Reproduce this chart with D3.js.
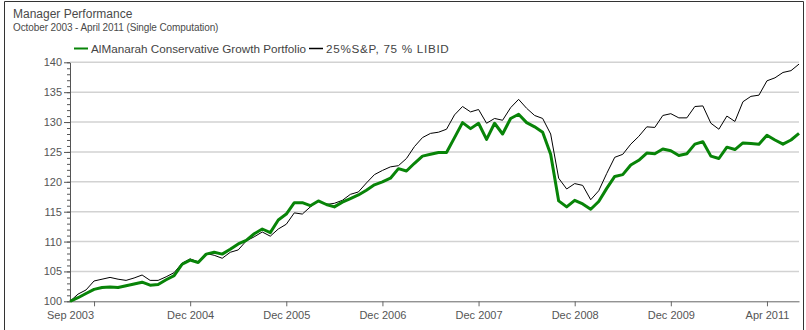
<!DOCTYPE html>
<html>
<head>
<meta charset="utf-8">
<script src="https://cdn.jsdelivr.net/npm/d3@7"></script>
<style>
  html, body { margin: 0; padding: 0; background: #fff; }
  svg { display: block; font-family: "Liberation Sans", Arial, sans-serif; }
</style>
</head>
<body>
<svg id="chart" width="806" height="330"></svg>
<script>
// Monthly index values, Sep 2003 (base 100) through Apr 2011
const months = d3.range(0, 92); // 0 = Sep 2003, 91 = Apr 2011

const portfolio = [
  100.0, 100.6, 101.3, 102.0, 102.3, 102.4, 102.3, 102.6, 102.9, 103.2,
  102.7, 102.8, 103.6, 104.3, 106.2, 106.9, 106.5, 107.9, 108.2, 107.9,
  108.7, 109.6, 110.2, 111.3, 112.1, 111.5, 113.6, 114.6, 116.5, 116.5,
  116.0, 116.8, 116.2, 115.8, 116.6, 117.2, 117.8, 118.6, 119.5, 120.0,
  120.6, 122.2, 121.8, 123.1, 124.3, 124.6, 124.9, 124.9, 127.4, 129.9,
  128.9, 129.8, 127.1, 129.8, 128.0, 130.6, 131.3, 129.9, 129.2, 128.3,
  124.6, 116.8, 115.8, 116.9, 116.3, 115.4, 116.7, 118.9, 120.9, 121.2,
  122.8, 123.6, 124.8, 124.7, 125.5, 125.2, 124.4, 124.7, 126.3, 126.7,
  124.3, 123.9, 125.8, 125.4, 126.5, 126.4, 126.3, 127.8, 127.0, 126.3,
  127.0, 128.1
];

const benchmark = [
  100.0, 101.2, 101.9, 103.4, 103.7, 104.0, 103.7, 103.5, 103.9, 104.4,
  103.5, 103.5, 104.1, 104.8, 106.4, 107.1, 106.6, 108.0, 107.7, 107.2,
  108.2, 108.6, 110.1, 110.8, 111.6, 110.9, 112.1, 112.9, 114.8, 114.6,
  115.8, 116.8, 116.2, 116.4, 116.9, 117.9, 118.3, 119.8, 121.2, 121.9,
  122.5, 122.7, 123.9, 125.9, 127.4, 128.1, 128.3, 128.8, 131.2, 132.6,
  131.7, 132.1, 129.8, 130.6, 130.3, 132.4, 133.8, 132.3, 131.1, 130.6,
  128.0, 120.6, 118.8, 119.7, 119.4, 117.0, 118.5, 121.4, 124.1, 124.6,
  126.3, 127.6, 129.2, 129.1, 131.1, 131.4, 130.7, 130.7, 132.6, 132.7,
  129.8, 128.8, 131.0, 130.1, 133.4, 134.3, 134.5, 136.9, 137.4, 138.3,
  138.6, 139.7
];

const seriesNames = ["AlManarah Conservative Growth Portfolio", "25%S&P, 75 % LIBID"];
const seriesColors = ["#088408", "#000000"];

// x-axis ticks (month index) and their labels; an empty label gives a bare tick
const xTickValues = [0, 3, 15, 27, 39, 51, 63, 75, 87];
const xTickLabels = ["Sep 2003", "", "Dec 2004", "Dec 2005", "Dec 2006", "Dec 2007", "Dec 2008", "Dec 2009", "Apr 2011"];
const yTickValues = [100, 105, 110, 115, 120, 125, 130, 135, 140];

const svg = d3.select("#chart");
const plot = { left: 70, right: 799, top: 62.3, bottom: 301.3 };

const x = d3.scaleLinear().domain([0, 91]).range([plot.left, plot.right]);
const y = d3.scaleLinear().domain([100, 140]).range([plot.bottom, plot.top]);

// outer frame
svg.append("path")
  .attr("d", "M4.5,340 V1.5 H803.5 V340")
  .attr("fill", "none").attr("stroke", "#333").attr("stroke-width", 1);

// titles
svg.append("text").attr("x", 13).attr("y", 18)
  .attr("font-size", 12).attr("fill", "#4a4a4a").text("Manager Performance");
svg.append("text").attr("x", 13).attr("y", 31)
  .attr("font-size", 10).attr("letter-spacing", -0.1).attr("fill", "#4a4a4a")
  .text("October 2003 - April 2011 (Single Computation)");

// gridlines
svg.append("g").selectAll("line").data(yTickValues.filter(v => v > 100)).join("line")
  .attr("x1", plot.left).attr("x2", plot.right)
  .attr("y1", d => y(d)).attr("y2", d => y(d))
  .attr("stroke", "#d2d2d2").attr("stroke-width", 1.5);

// y axis: minor ticks every unit, labelled majors every 5
const yMinor = d3.axisLeft(y).tickValues(d3.range(100, 141, 1)).tickSize(3).tickFormat("");
svg.append("g").attr("transform", `translate(${plot.left},0)`).call(yMinor)
  .call(g => g.select(".domain").remove())
  .call(g => g.selectAll("line").attr("stroke", "#555"));

const yAxis = d3.axisLeft(y).tickValues(yTickValues).tickSize(6).tickPadding(2).tickSizeOuter(0);
svg.append("g").attr("transform", `translate(${plot.left},0)`).call(yAxis)
  .call(g => g.select(".domain").attr("stroke", "#555"))
  .call(g => g.selectAll("line").attr("stroke", "#555"))
  .call(g => g.selectAll("text").attr("font-size", 11).attr("fill", "#555")
    .attr("font-family", "'Liberation Sans', Arial, sans-serif"));

// x axis
const xAxis = d3.axisBottom(x).tickValues(xTickValues)
  .tickFormat((d, i) => xTickLabels[i]).tickSize(5).tickPadding(5).tickSizeOuter(0);
svg.append("g").attr("transform", `translate(0,${plot.bottom})`).call(xAxis)
  .call(g => g.select(".domain").attr("stroke", "#666"))
  .call(g => g.selectAll("line").attr("stroke", "#666"))
  .call(g => g.selectAll(".tick").filter(d => d === 0).select("line").remove())
  .call(g => g.selectAll("text").attr("font-size", 11).attr("fill", "#555")
    .attr("font-family", "'Liberation Sans', Arial, sans-serif"));

// series lines
const line = d3.line().x((d, i) => x(months[i])).y(d => y(d));
svg.append("path").datum(benchmark)
  .attr("fill", "none").attr("stroke", seriesColors[1]).attr("stroke-width", 1)
  .attr("stroke-linejoin", "round").attr("d", line);
svg.append("path").datum(portfolio)
  .attr("fill", "none").attr("stroke", seriesColors[0]).attr("stroke-width", 3)
  .attr("stroke-linejoin", "round").attr("d", line);

// legend
const legend = svg.append("g").attr("font-size", 11.7).attr("fill", "#444");
const legendSpacing = [0, 0.7];
let lx = 74;
seriesNames.forEach((name, i) => {
  legend.append("line").attr("x1", lx).attr("x2", lx + 14).attr("y1", 48.5).attr("y2", 48.5)
    .attr("stroke", seriesColors[i]).attr("stroke-width", i === 0 ? 2 : 1.5);
  const t = legend.append("text").attr("x", lx + 17).attr("y", 52.5)
    .attr("letter-spacing", legendSpacing[i]).text(name);
  lx += 17 + t.node().getComputedTextLength() + 3;
});
</script>
</body>
</html>
